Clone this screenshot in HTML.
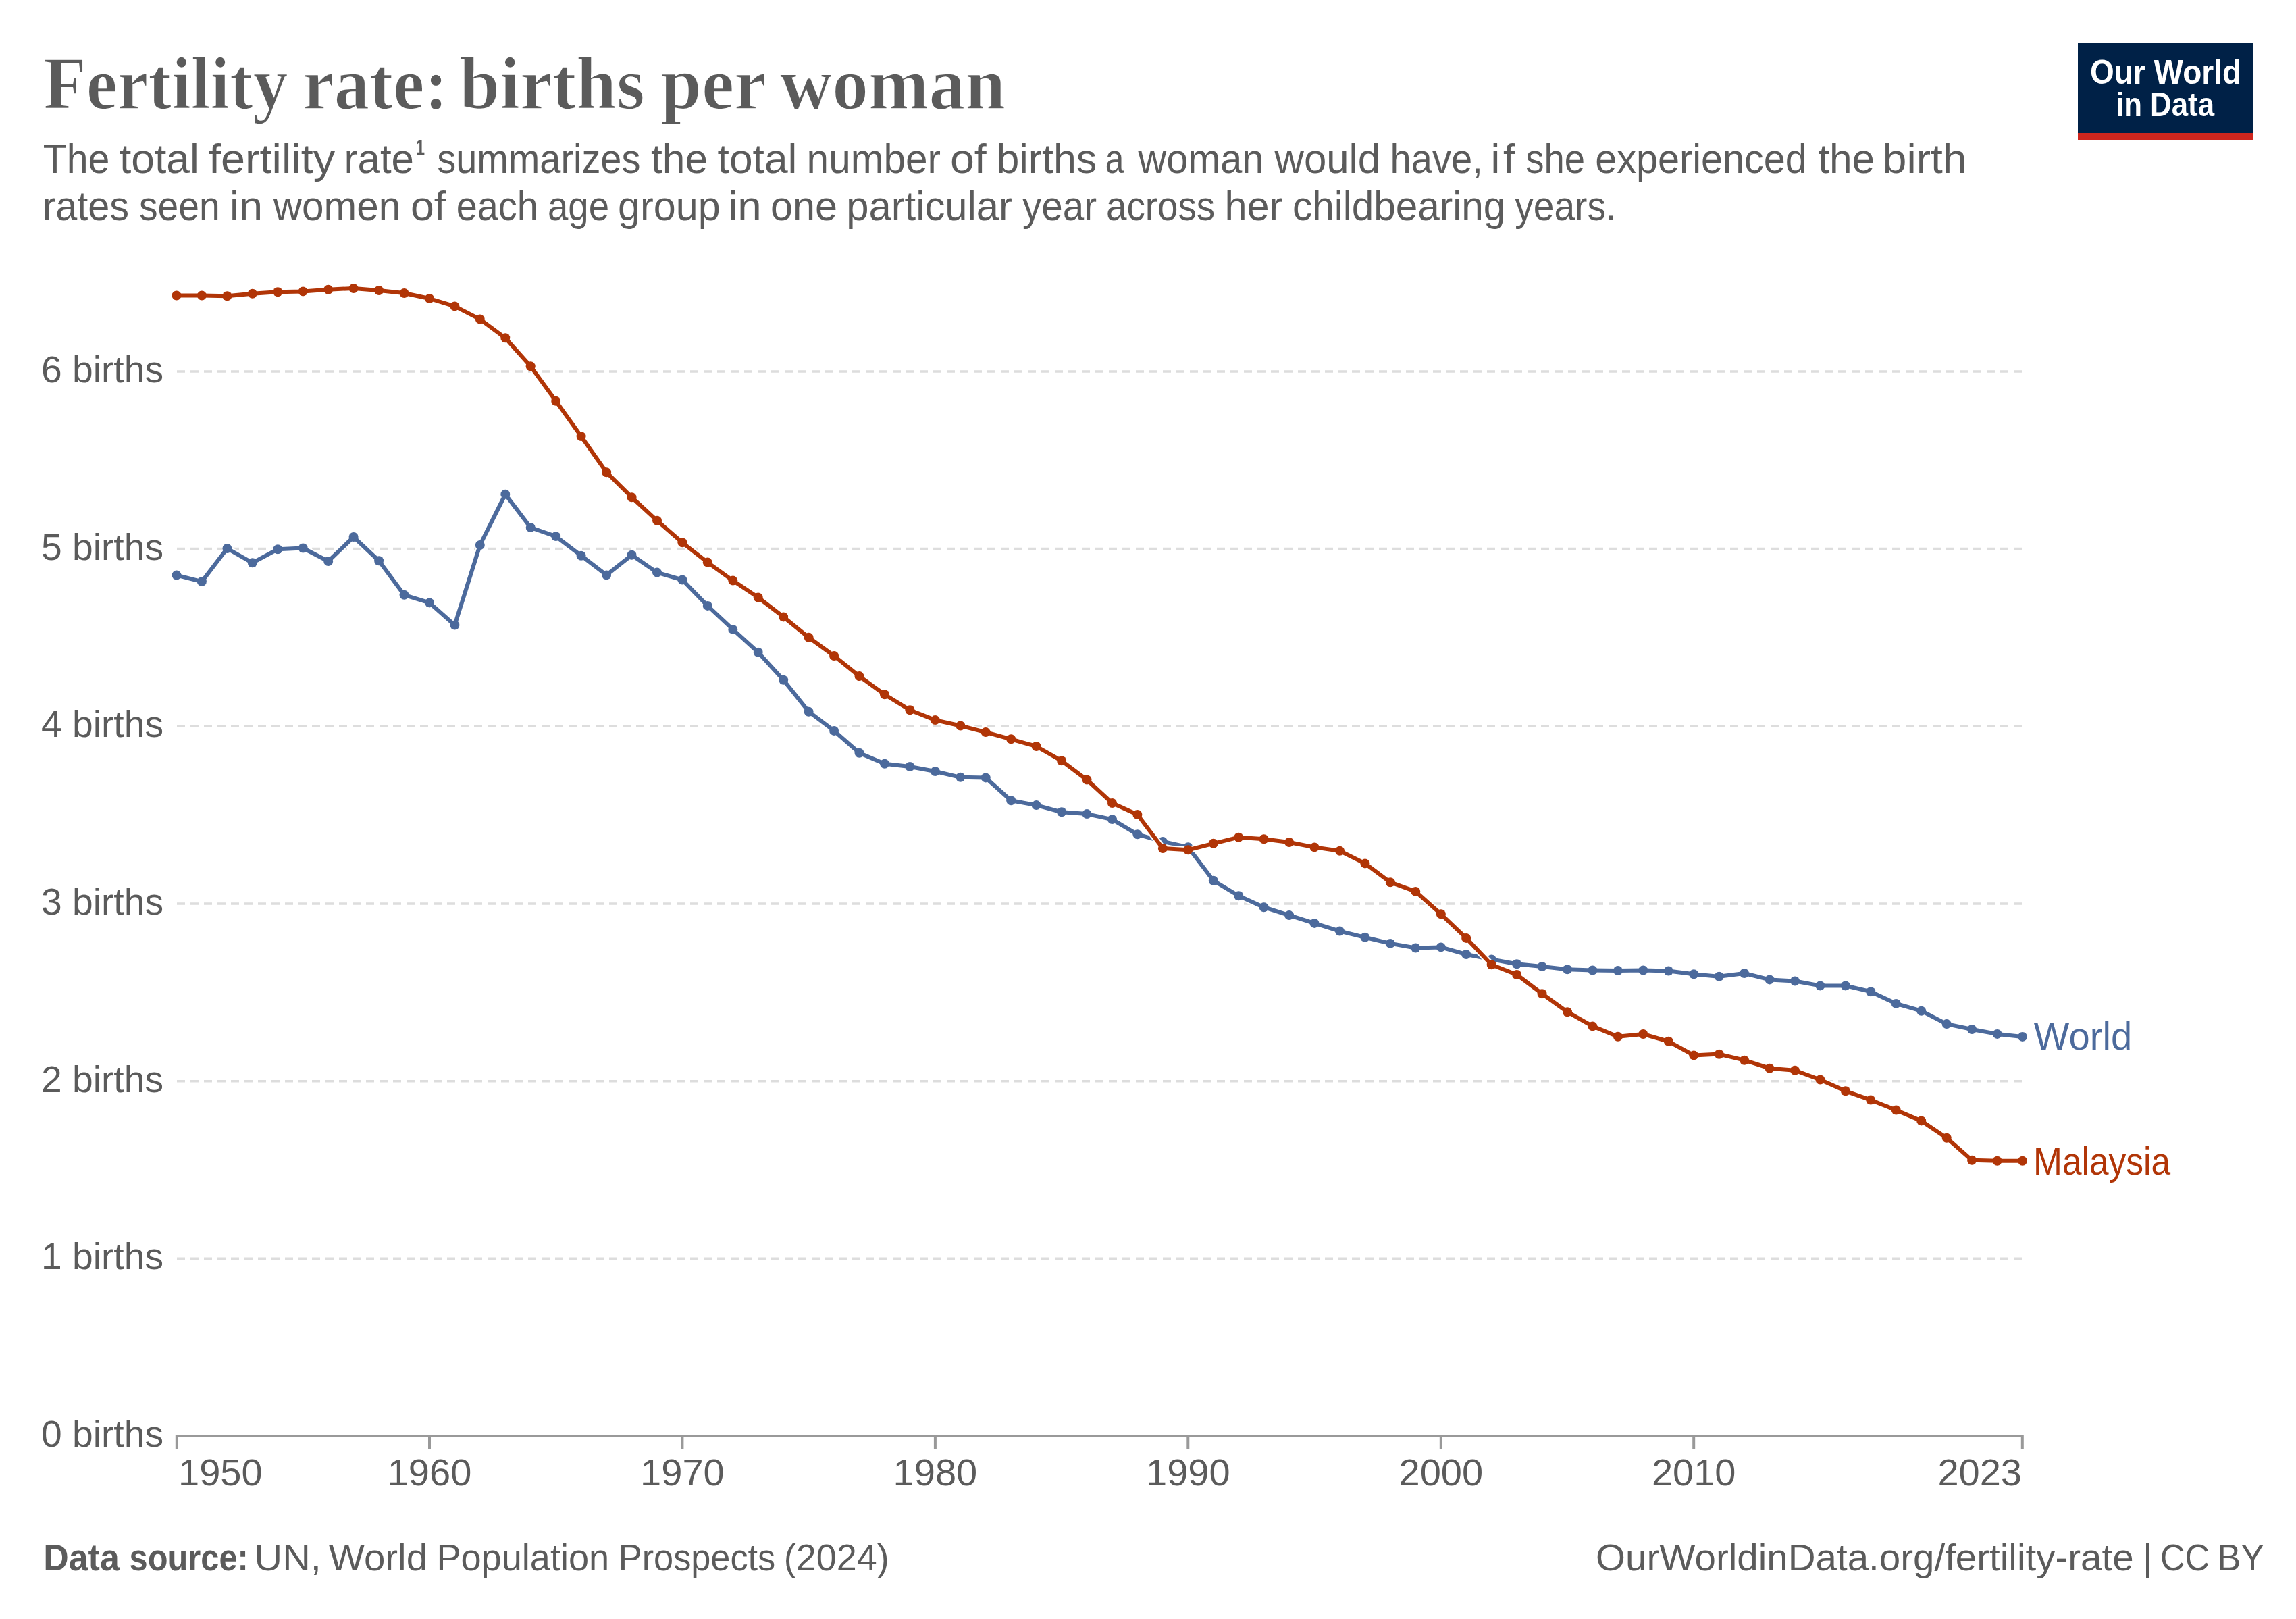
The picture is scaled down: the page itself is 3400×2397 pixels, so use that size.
<!DOCTYPE html>
<html><head><meta charset="utf-8"><style>
html,body{margin:0;padding:0;background:#fff;}
body{width:3400px;height:2397px;overflow:hidden;position:relative;}
svg{position:absolute;left:0;top:0;will-change:transform;}
text{font-family:"Liberation Sans",sans-serif;}
.ax{font-size:56px;fill:#5b5b5b;}
.lab{font-size:57px;}
.title{font-family:"Liberation Serif",serif;font-weight:bold;font-size:110px;fill:#5b5b5b;stroke:#fff;stroke-width:1.6px;}
.sub{font-size:62px;fill:#5b5b5b;}
.foot{font-size:56px;fill:#5b5b5b;}
.footb{font-size:56px;fill:#5b5b5b;font-weight:bold;}
.logo{font-size:50px;fill:#fff;font-weight:bold;}
</style></head><body>
<svg width="3400" height="2397" viewBox="0 0 3400 2397">
<line x1="262" y1="1863.3" x2="2995" y2="1863.3" stroke="#dddddd" stroke-width="3.5" stroke-dasharray="12,8"/>
<line x1="262" y1="1600.7" x2="2995" y2="1600.7" stroke="#dddddd" stroke-width="3.5" stroke-dasharray="12,8"/>
<line x1="262" y1="1338.0" x2="2995" y2="1338.0" stroke="#dddddd" stroke-width="3.5" stroke-dasharray="12,8"/>
<line x1="262" y1="1075.3" x2="2995" y2="1075.3" stroke="#dddddd" stroke-width="3.5" stroke-dasharray="12,8"/>
<line x1="262" y1="812.6" x2="2995" y2="812.6" stroke="#dddddd" stroke-width="3.5" stroke-dasharray="12,8"/>
<line x1="262" y1="550.0" x2="2995" y2="550.0" stroke="#dddddd" stroke-width="3.5" stroke-dasharray="12,8"/>
<text x="242.0" y="2142.0" text-anchor="end" class="ax" textLength="181.0" lengthAdjust="spacingAndGlyphs">0 births</text>
<text x="242.0" y="1879.3" text-anchor="end" class="ax" textLength="181.0" lengthAdjust="spacingAndGlyphs">1 births</text>
<text x="242.0" y="1616.7" text-anchor="end" class="ax" textLength="181.0" lengthAdjust="spacingAndGlyphs">2 births</text>
<text x="242.0" y="1354.0" text-anchor="end" class="ax" textLength="181.0" lengthAdjust="spacingAndGlyphs">3 births</text>
<text x="242.0" y="1091.3" text-anchor="end" class="ax" textLength="181.0" lengthAdjust="spacingAndGlyphs">4 births</text>
<text x="242.0" y="828.6" text-anchor="end" class="ax" textLength="181.0" lengthAdjust="spacingAndGlyphs">5 births</text>
<text x="242.0" y="566.0" text-anchor="end" class="ax" textLength="181.0" lengthAdjust="spacingAndGlyphs">6 births</text>
<line x1="261.5" y1="2126" x2="2995" y2="2126" stroke="#999" stroke-width="4"/>
<line x1="261.8" y1="2124" x2="261.8" y2="2146" stroke="#999" stroke-width="4"/>
<text x="264" y="2198.5" class="ax">1950</text>
<line x1="636.0" y1="2124" x2="636.0" y2="2146" stroke="#999" stroke-width="4"/>
<text x="636.0" y="2198.5" text-anchor="middle" class="ax">1960</text>
<line x1="1010.4" y1="2124" x2="1010.4" y2="2146" stroke="#999" stroke-width="4"/>
<text x="1010.4" y="2198.5" text-anchor="middle" class="ax">1970</text>
<line x1="1384.9" y1="2124" x2="1384.9" y2="2146" stroke="#999" stroke-width="4"/>
<text x="1384.9" y="2198.5" text-anchor="middle" class="ax">1980</text>
<line x1="1759.3" y1="2124" x2="1759.3" y2="2146" stroke="#999" stroke-width="4"/>
<text x="1759.3" y="2198.5" text-anchor="middle" class="ax">1990</text>
<line x1="2133.8" y1="2124" x2="2133.8" y2="2146" stroke="#999" stroke-width="4"/>
<text x="2133.8" y="2198.5" text-anchor="middle" class="ax">2000</text>
<line x1="2508.2" y1="2124" x2="2508.2" y2="2146" stroke="#999" stroke-width="4"/>
<text x="2508.2" y="2198.5" text-anchor="middle" class="ax">2010</text>
<line x1="2994.8" y1="2124" x2="2994.8" y2="2146" stroke="#999" stroke-width="4"/>
<text x="2994" y="2198.5" text-anchor="end" class="ax">2023</text>
<polyline points="261.5,851.6 298.9,861.1 336.4,812.0 373.8,833.3 411.3,813.2 448.7,811.5 486.2,831.0 523.6,795.0 561.1,830.3 598.5,880.8 636.0,892.4 673.4,925.5 710.8,807.0 748.3,731.8 785.7,781.0 823.2,794.1 860.6,822.7 898.1,851.4 935.5,821.8 973.0,847.6 1010.4,858.5 1047.8,896.9 1085.3,931.9 1122.7,965.8 1160.2,1006.8 1197.6,1053.7 1235.1,1081.9 1272.5,1114.8 1310.0,1130.8 1347.4,1135.0 1384.9,1142.0 1422.3,1150.8 1459.7,1151.4 1497.2,1185.3 1534.6,1192.1 1572.1,1202.3 1609.5,1205.1 1647.0,1213.1 1684.4,1235.3 1721.9,1245.9 1759.3,1254.2 1796.8,1303.7 1834.2,1326.3 1871.6,1343.2 1909.1,1355.1 1946.5,1366.9 1984.0,1378.6 2021.4,1387.8 2058.9,1396.9 2096.3,1403.5 2133.8,1402.4 2171.2,1413.0 2208.7,1420.4 2246.1,1427.3 2283.5,1431.0 2321.0,1435.2 2358.4,1436.5 2395.9,1437.1 2433.3,1436.5 2470.8,1437.5 2508.2,1442.3 2545.7,1445.8 2583.1,1441.0 2620.5,1450.4 2658.0,1452.5 2695.4,1459.4 2732.9,1459.4 2770.3,1468.2 2807.8,1485.9 2845.2,1496.7 2882.7,1516.1 2920.1,1524.0 2957.6,1530.9 2995.0,1534.9" fill="none" stroke="#fff" stroke-width="10" stroke-linejoin="round" stroke-linecap="round"/>
<polyline points="261.5,851.6 298.9,861.1 336.4,812.0 373.8,833.3 411.3,813.2 448.7,811.5 486.2,831.0 523.6,795.0 561.1,830.3 598.5,880.8 636.0,892.4 673.4,925.5 710.8,807.0 748.3,731.8 785.7,781.0 823.2,794.1 860.6,822.7 898.1,851.4 935.5,821.8 973.0,847.6 1010.4,858.5 1047.8,896.9 1085.3,931.9 1122.7,965.8 1160.2,1006.8 1197.6,1053.7 1235.1,1081.9 1272.5,1114.8 1310.0,1130.8 1347.4,1135.0 1384.9,1142.0 1422.3,1150.8 1459.7,1151.4 1497.2,1185.3 1534.6,1192.1 1572.1,1202.3 1609.5,1205.1 1647.0,1213.1 1684.4,1235.3 1721.9,1245.9 1759.3,1254.2 1796.8,1303.7 1834.2,1326.3 1871.6,1343.2 1909.1,1355.1 1946.5,1366.9 1984.0,1378.6 2021.4,1387.8 2058.9,1396.9 2096.3,1403.5 2133.8,1402.4 2171.2,1413.0 2208.7,1420.4 2246.1,1427.3 2283.5,1431.0 2321.0,1435.2 2358.4,1436.5 2395.9,1437.1 2433.3,1436.5 2470.8,1437.5 2508.2,1442.3 2545.7,1445.8 2583.1,1441.0 2620.5,1450.4 2658.0,1452.5 2695.4,1459.4 2732.9,1459.4 2770.3,1468.2 2807.8,1485.9 2845.2,1496.7 2882.7,1516.1 2920.1,1524.0 2957.6,1530.9 2995.0,1534.9" fill="none" stroke="#4c6a9c" stroke-width="6" stroke-linejoin="round"/>
<g fill="#4c6a9c"><circle cx="261.5" cy="851.6" r="7"/><circle cx="298.9" cy="861.1" r="7"/><circle cx="336.4" cy="812.0" r="7"/><circle cx="373.8" cy="833.3" r="7"/><circle cx="411.3" cy="813.2" r="7"/><circle cx="448.7" cy="811.5" r="7"/><circle cx="486.2" cy="831.0" r="7"/><circle cx="523.6" cy="795.0" r="7"/><circle cx="561.1" cy="830.3" r="7"/><circle cx="598.5" cy="880.8" r="7"/><circle cx="636.0" cy="892.4" r="7"/><circle cx="673.4" cy="925.5" r="7"/><circle cx="710.8" cy="807.0" r="7"/><circle cx="748.3" cy="731.8" r="7"/><circle cx="785.7" cy="781.0" r="7"/><circle cx="823.2" cy="794.1" r="7"/><circle cx="860.6" cy="822.7" r="7"/><circle cx="898.1" cy="851.4" r="7"/><circle cx="935.5" cy="821.8" r="7"/><circle cx="973.0" cy="847.6" r="7"/><circle cx="1010.4" cy="858.5" r="7"/><circle cx="1047.8" cy="896.9" r="7"/><circle cx="1085.3" cy="931.9" r="7"/><circle cx="1122.7" cy="965.8" r="7"/><circle cx="1160.2" cy="1006.8" r="7"/><circle cx="1197.6" cy="1053.7" r="7"/><circle cx="1235.1" cy="1081.9" r="7"/><circle cx="1272.5" cy="1114.8" r="7"/><circle cx="1310.0" cy="1130.8" r="7"/><circle cx="1347.4" cy="1135.0" r="7"/><circle cx="1384.9" cy="1142.0" r="7"/><circle cx="1422.3" cy="1150.8" r="7"/><circle cx="1459.7" cy="1151.4" r="7"/><circle cx="1497.2" cy="1185.3" r="7"/><circle cx="1534.6" cy="1192.1" r="7"/><circle cx="1572.1" cy="1202.3" r="7"/><circle cx="1609.5" cy="1205.1" r="7"/><circle cx="1647.0" cy="1213.1" r="7"/><circle cx="1684.4" cy="1235.3" r="7"/><circle cx="1721.9" cy="1245.9" r="7"/><circle cx="1759.3" cy="1254.2" r="7"/><circle cx="1796.8" cy="1303.7" r="7"/><circle cx="1834.2" cy="1326.3" r="7"/><circle cx="1871.6" cy="1343.2" r="7"/><circle cx="1909.1" cy="1355.1" r="7"/><circle cx="1946.5" cy="1366.9" r="7"/><circle cx="1984.0" cy="1378.6" r="7"/><circle cx="2021.4" cy="1387.8" r="7"/><circle cx="2058.9" cy="1396.9" r="7"/><circle cx="2096.3" cy="1403.5" r="7"/><circle cx="2133.8" cy="1402.4" r="7"/><circle cx="2171.2" cy="1413.0" r="7"/><circle cx="2208.7" cy="1420.4" r="7"/><circle cx="2246.1" cy="1427.3" r="7"/><circle cx="2283.5" cy="1431.0" r="7"/><circle cx="2321.0" cy="1435.2" r="7"/><circle cx="2358.4" cy="1436.5" r="7"/><circle cx="2395.9" cy="1437.1" r="7"/><circle cx="2433.3" cy="1436.5" r="7"/><circle cx="2470.8" cy="1437.5" r="7"/><circle cx="2508.2" cy="1442.3" r="7"/><circle cx="2545.7" cy="1445.8" r="7"/><circle cx="2583.1" cy="1441.0" r="7"/><circle cx="2620.5" cy="1450.4" r="7"/><circle cx="2658.0" cy="1452.5" r="7"/><circle cx="2695.4" cy="1459.4" r="7"/><circle cx="2732.9" cy="1459.4" r="7"/><circle cx="2770.3" cy="1468.2" r="7"/><circle cx="2807.8" cy="1485.9" r="7"/><circle cx="2845.2" cy="1496.7" r="7"/><circle cx="2882.7" cy="1516.1" r="7"/><circle cx="2920.1" cy="1524.0" r="7"/><circle cx="2957.6" cy="1530.9" r="7"/><circle cx="2995.0" cy="1534.9" r="7"/></g>
<polyline points="261.5,437.5 298.9,437.5 336.4,438.3 373.8,434.8 411.3,432.2 448.7,431.4 486.2,428.7 523.6,427.0 561.1,430.0 598.5,434.0 636.0,442.0 673.4,453.4 710.8,472.6 748.3,500.3 785.7,542.3 823.2,593.7 860.6,646.1 898.1,699.2 935.5,736.2 973.0,770.8 1010.4,803.3 1047.8,832.6 1085.3,859.6 1122.7,884.5 1160.2,913.4 1197.6,943.8 1235.1,971.0 1272.5,1001.1 1310.0,1028.3 1347.4,1051.3 1384.9,1066.1 1422.3,1074.5 1459.7,1084.1 1497.2,1094.3 1534.6,1105.0 1572.1,1126.3 1609.5,1154.5 1647.0,1189.0 1684.4,1206.0 1721.9,1256.0 1759.3,1258.3 1796.8,1248.8 1834.2,1239.7 1871.6,1242.3 1909.1,1247.0 1946.5,1254.4 1984.0,1259.8 2021.4,1278.4 2058.9,1306.3 2096.3,1319.9 2133.8,1353.3 2171.2,1388.9 2208.7,1428.2 2246.1,1443.0 2283.5,1471.2 2321.0,1498.2 2358.4,1519.4 2395.9,1534.7 2433.3,1531.0 2470.8,1541.8 2508.2,1562.4 2545.7,1560.7 2583.1,1569.7 2620.5,1581.7 2658.0,1584.8 2695.4,1598.5 2732.9,1615.3 2770.3,1628.6 2807.8,1643.6 2845.2,1659.4 2882.7,1684.7 2920.1,1717.7 2957.6,1718.7 2995.0,1718.7" fill="none" stroke="#fff" stroke-width="10" stroke-linejoin="round" stroke-linecap="round"/>
<polyline points="261.5,437.5 298.9,437.5 336.4,438.3 373.8,434.8 411.3,432.2 448.7,431.4 486.2,428.7 523.6,427.0 561.1,430.0 598.5,434.0 636.0,442.0 673.4,453.4 710.8,472.6 748.3,500.3 785.7,542.3 823.2,593.7 860.6,646.1 898.1,699.2 935.5,736.2 973.0,770.8 1010.4,803.3 1047.8,832.6 1085.3,859.6 1122.7,884.5 1160.2,913.4 1197.6,943.8 1235.1,971.0 1272.5,1001.1 1310.0,1028.3 1347.4,1051.3 1384.9,1066.1 1422.3,1074.5 1459.7,1084.1 1497.2,1094.3 1534.6,1105.0 1572.1,1126.3 1609.5,1154.5 1647.0,1189.0 1684.4,1206.0 1721.9,1256.0 1759.3,1258.3 1796.8,1248.8 1834.2,1239.7 1871.6,1242.3 1909.1,1247.0 1946.5,1254.4 1984.0,1259.8 2021.4,1278.4 2058.9,1306.3 2096.3,1319.9 2133.8,1353.3 2171.2,1388.9 2208.7,1428.2 2246.1,1443.0 2283.5,1471.2 2321.0,1498.2 2358.4,1519.4 2395.9,1534.7 2433.3,1531.0 2470.8,1541.8 2508.2,1562.4 2545.7,1560.7 2583.1,1569.7 2620.5,1581.7 2658.0,1584.8 2695.4,1598.5 2732.9,1615.3 2770.3,1628.6 2807.8,1643.6 2845.2,1659.4 2882.7,1684.7 2920.1,1717.7 2957.6,1718.7 2995.0,1718.7" fill="none" stroke="#b13507" stroke-width="6" stroke-linejoin="round"/>
<g fill="#b13507"><circle cx="261.5" cy="437.5" r="7"/><circle cx="298.9" cy="437.5" r="7"/><circle cx="336.4" cy="438.3" r="7"/><circle cx="373.8" cy="434.8" r="7"/><circle cx="411.3" cy="432.2" r="7"/><circle cx="448.7" cy="431.4" r="7"/><circle cx="486.2" cy="428.7" r="7"/><circle cx="523.6" cy="427.0" r="7"/><circle cx="561.1" cy="430.0" r="7"/><circle cx="598.5" cy="434.0" r="7"/><circle cx="636.0" cy="442.0" r="7"/><circle cx="673.4" cy="453.4" r="7"/><circle cx="710.8" cy="472.6" r="7"/><circle cx="748.3" cy="500.3" r="7"/><circle cx="785.7" cy="542.3" r="7"/><circle cx="823.2" cy="593.7" r="7"/><circle cx="860.6" cy="646.1" r="7"/><circle cx="898.1" cy="699.2" r="7"/><circle cx="935.5" cy="736.2" r="7"/><circle cx="973.0" cy="770.8" r="7"/><circle cx="1010.4" cy="803.3" r="7"/><circle cx="1047.8" cy="832.6" r="7"/><circle cx="1085.3" cy="859.6" r="7"/><circle cx="1122.7" cy="884.5" r="7"/><circle cx="1160.2" cy="913.4" r="7"/><circle cx="1197.6" cy="943.8" r="7"/><circle cx="1235.1" cy="971.0" r="7"/><circle cx="1272.5" cy="1001.1" r="7"/><circle cx="1310.0" cy="1028.3" r="7"/><circle cx="1347.4" cy="1051.3" r="7"/><circle cx="1384.9" cy="1066.1" r="7"/><circle cx="1422.3" cy="1074.5" r="7"/><circle cx="1459.7" cy="1084.1" r="7"/><circle cx="1497.2" cy="1094.3" r="7"/><circle cx="1534.6" cy="1105.0" r="7"/><circle cx="1572.1" cy="1126.3" r="7"/><circle cx="1609.5" cy="1154.5" r="7"/><circle cx="1647.0" cy="1189.0" r="7"/><circle cx="1684.4" cy="1206.0" r="7"/><circle cx="1721.9" cy="1256.0" r="7"/><circle cx="1759.3" cy="1258.3" r="7"/><circle cx="1796.8" cy="1248.8" r="7"/><circle cx="1834.2" cy="1239.7" r="7"/><circle cx="1871.6" cy="1242.3" r="7"/><circle cx="1909.1" cy="1247.0" r="7"/><circle cx="1946.5" cy="1254.4" r="7"/><circle cx="1984.0" cy="1259.8" r="7"/><circle cx="2021.4" cy="1278.4" r="7"/><circle cx="2058.9" cy="1306.3" r="7"/><circle cx="2096.3" cy="1319.9" r="7"/><circle cx="2133.8" cy="1353.3" r="7"/><circle cx="2171.2" cy="1388.9" r="7"/><circle cx="2208.7" cy="1428.2" r="7"/><circle cx="2246.1" cy="1443.0" r="7"/><circle cx="2283.5" cy="1471.2" r="7"/><circle cx="2321.0" cy="1498.2" r="7"/><circle cx="2358.4" cy="1519.4" r="7"/><circle cx="2395.9" cy="1534.7" r="7"/><circle cx="2433.3" cy="1531.0" r="7"/><circle cx="2470.8" cy="1541.8" r="7"/><circle cx="2508.2" cy="1562.4" r="7"/><circle cx="2545.7" cy="1560.7" r="7"/><circle cx="2583.1" cy="1569.7" r="7"/><circle cx="2620.5" cy="1581.7" r="7"/><circle cx="2658.0" cy="1584.8" r="7"/><circle cx="2695.4" cy="1598.5" r="7"/><circle cx="2732.9" cy="1615.3" r="7"/><circle cx="2770.3" cy="1628.6" r="7"/><circle cx="2807.8" cy="1643.6" r="7"/><circle cx="2845.2" cy="1659.4" r="7"/><circle cx="2882.7" cy="1684.7" r="7"/><circle cx="2920.1" cy="1717.7" r="7"/><circle cx="2957.6" cy="1718.7" r="7"/><circle cx="2995.0" cy="1718.7" r="7"/></g>
<text x="3011.6" y="1554" class="lab" fill="#4c6a9c" textLength="145.5" lengthAdjust="spacingAndGlyphs">World</text>
<text x="3011.0" y="1738.7" class="lab" fill="#b13507" textLength="203.2" lengthAdjust="spacingAndGlyphs">Malaysia</text>
<text x="64.4" y="160.8" class="title" textLength="362.2" lengthAdjust="spacingAndGlyphs">Fertility</text>
<text x="448.4" y="160.8" class="title" textLength="215.0" lengthAdjust="spacingAndGlyphs">rate:</text>
<text x="680.4" y="160.8" class="title" textLength="274.4" lengthAdjust="spacingAndGlyphs">births</text>
<text x="978.6" y="160.8" class="title" textLength="156.6" lengthAdjust="spacingAndGlyphs">per</text>
<text x="1154.8" y="160.8" class="title" textLength="334.2" lengthAdjust="spacingAndGlyphs">woman</text>
<text x="63.8" y="256" class="sub" textLength="98.6" lengthAdjust="spacingAndGlyphs">The</text>
<text x="177.0" y="256" class="sub" textLength="117.8" lengthAdjust="spacingAndGlyphs">total</text>
<text x="309.0" y="256" class="sub" textLength="187.0" lengthAdjust="spacingAndGlyphs">fertility</text>
<text x="509.6" y="256" class="sub" textLength="103.4" lengthAdjust="spacingAndGlyphs">rate</text>
<text x="647.2" y="256" class="sub" textLength="301.2" lengthAdjust="spacingAndGlyphs">summarizes</text>
<text x="964.0" y="256" class="sub" textLength="84.0" lengthAdjust="spacingAndGlyphs">the</text>
<text x="1062.6" y="256" class="sub" textLength="117.8" lengthAdjust="spacingAndGlyphs">total</text>
<text x="1194.6" y="256" class="sub" textLength="198.4" lengthAdjust="spacingAndGlyphs">number</text>
<text x="1407.0" y="256" class="sub" textLength="53.8" lengthAdjust="spacingAndGlyphs">of</text>
<text x="1475.4" y="256" class="sub" textLength="148.8" lengthAdjust="spacingAndGlyphs">births</text>
<text x="1636.8" y="256" class="sub" textLength="27.6" lengthAdjust="spacingAndGlyphs">a</text>
<text x="1685.6" y="256" class="sub" textLength="185.8" lengthAdjust="spacingAndGlyphs">woman</text>
<text x="1887.6" y="256" class="sub" textLength="156.6" lengthAdjust="spacingAndGlyphs">would</text>
<text x="2058.6" y="256" class="sub" textLength="137.2" lengthAdjust="spacingAndGlyphs">have,</text>
<text x="2207.6" y="256" class="sub" textLength="35.6" lengthAdjust="spacing">if</text>
<text x="2259.2" y="256" class="sub" textLength="87.8" lengthAdjust="spacingAndGlyphs">she</text>
<text x="2362.2" y="256" class="sub" textLength="313.6" lengthAdjust="spacingAndGlyphs">experienced</text>
<text x="2692.2" y="256" class="sub" textLength="84.0" lengthAdjust="spacingAndGlyphs">the</text>
<text x="2787.8" y="256" class="sub" textLength="124.6" lengthAdjust="spacingAndGlyphs">birth</text>
<text x="63.0" y="326" class="sub" textLength="128.0" lengthAdjust="spacingAndGlyphs">rates</text>
<text x="206.0" y="326" class="sub" textLength="119.6" lengthAdjust="spacingAndGlyphs">seen</text>
<text x="340.0" y="326" class="sub" textLength="49.0" lengthAdjust="spacingAndGlyphs">in</text>
<text x="404.8" y="326" class="sub" textLength="188.4" lengthAdjust="spacingAndGlyphs">women</text>
<text x="608.0" y="326" class="sub" textLength="52.2" lengthAdjust="spacingAndGlyphs">of</text>
<text x="675.8" y="326" class="sub" textLength="121.0" lengthAdjust="spacingAndGlyphs">each</text>
<text x="811.0" y="326" class="sub" textLength="91.0" lengthAdjust="spacingAndGlyphs">age</text>
<text x="915.0" y="326" class="sub" textLength="151.6" lengthAdjust="spacingAndGlyphs">group</text>
<text x="1078.2" y="326" class="sub" textLength="49.6" lengthAdjust="spacingAndGlyphs">in</text>
<text x="1141.0" y="326" class="sub" textLength="99.0" lengthAdjust="spacingAndGlyphs">one</text>
<text x="1253.2" y="326" class="sub" textLength="245.8" lengthAdjust="spacingAndGlyphs">particular</text>
<text x="1514.0" y="326" class="sub" textLength="110.0" lengthAdjust="spacingAndGlyphs">year</text>
<text x="1638.0" y="326" class="sub" textLength="161.2" lengthAdjust="spacingAndGlyphs">across</text>
<text x="1813.4" y="326" class="sub" textLength="86.0" lengthAdjust="spacingAndGlyphs">her</text>
<text x="1914.0" y="326" class="sub" textLength="315.4" lengthAdjust="spacingAndGlyphs">childbearing</text>
<text x="2243.2" y="326" class="sub" textLength="150.2" lengthAdjust="spacingAndGlyphs">years.</text>
<text x="64.2" y="2325" class="footb" textLength="112.6" lengthAdjust="spacingAndGlyphs">Data</text>
<text x="191.6" y="2325" class="footb" textLength="176.2" lengthAdjust="spacingAndGlyphs">source:</text>
<text x="376.6" y="2325" class="foot" textLength="99.2" lengthAdjust="spacingAndGlyphs">UN,</text>
<text x="486.8" y="2325" class="foot" textLength="146.2" lengthAdjust="spacingAndGlyphs">World</text>
<text x="646.4" y="2325" class="foot" textLength="255.8" lengthAdjust="spacingAndGlyphs">Population</text>
<text x="915.8" y="2325" class="foot" textLength="232.4" lengthAdjust="spacingAndGlyphs">Prospects</text>
<text x="1160.8" y="2325" class="foot" textLength="155.8" lengthAdjust="spacingAndGlyphs">(2024)</text>
<text x="2363.0" y="2325" class="foot" textLength="796.6" lengthAdjust="spacingAndGlyphs">OurWorldinData.org/fertility-rate</text>
<text x="3199.0" y="2325" class="foot" textLength="73.2" lengthAdjust="spacingAndGlyphs">CC</text>
<text x="3283.6" y="2325" class="foot" textLength="69.4" lengthAdjust="spacingAndGlyphs">BY</text>
<text x="615.4" y="229.2" class="sub" style="font-size:31px;font-weight:bold" textLength="13.6" lengthAdjust="spacingAndGlyphs">1</text>
<text x="3173" y="2325" class="foot">|</text>
<rect x="3077" y="64" width="259" height="134" fill="#002147"/>
<rect x="3077" y="197" width="259" height="11" fill="#ce261e"/>
<text x="3095.0" y="124" class="logo" textLength="224.0" lengthAdjust="spacingAndGlyphs">Our World</text>
<text x="3133.0" y="172" class="logo" textLength="146.0" lengthAdjust="spacingAndGlyphs">in Data</text>
</svg>
</body></html>
